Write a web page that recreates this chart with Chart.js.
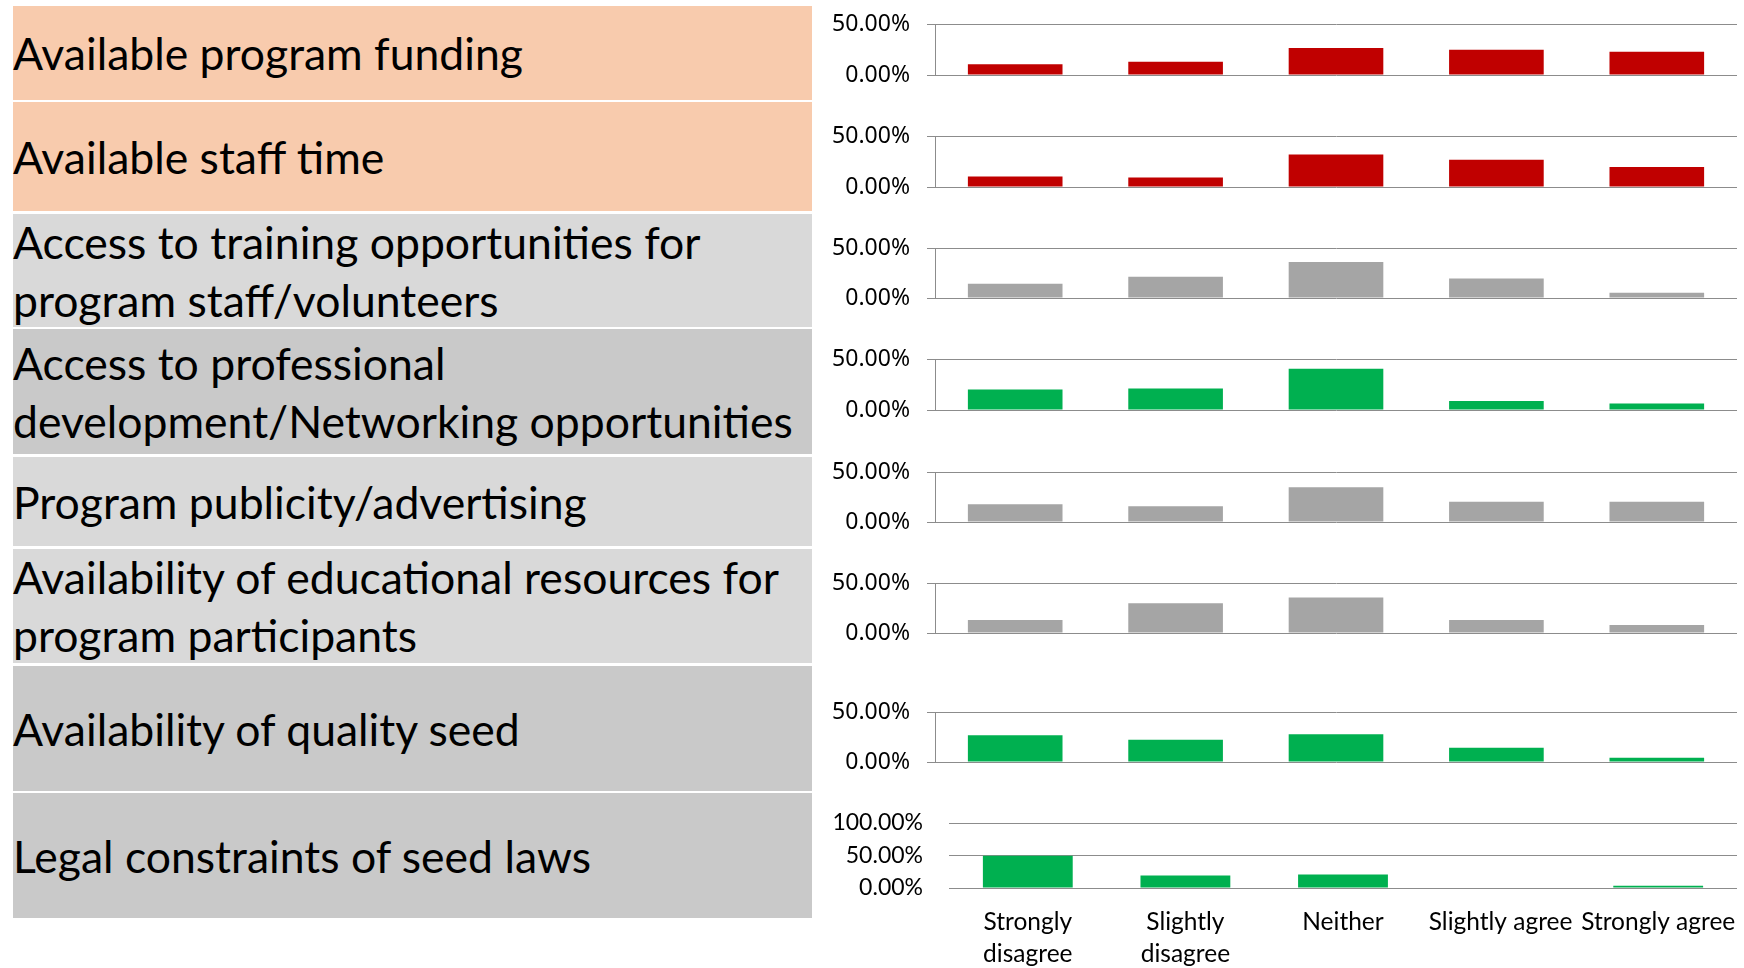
<!DOCTYPE html>
<html>
<head>
<meta charset="utf-8">
<script src="https://cdn.jsdelivr.net/npm/chart.js@4.4.1/dist/chart.umd.min.js"></script>
<style>
    body { margin: 0; background: #fff; width: 1744px; height: 968px; position: relative; overflow: hidden; }
    .box { position: absolute; left: 13px; width: 799px; display: flex; align-items: center; font-family: Lato, sans-serif; color: #000; line-height: 58px; white-space: nowrap; }
    .panel { position: absolute; left: 820px; line-height: 0; }
</style>
</head>
<body>
<div id="boxes"></div>
<div id="panels"></div>
<script>
// answer scale
const categories = [["Strongly", "disagree"], ["Slightly", "disagree"], "Neither", "Slightly agree", "Strongly agree"];

// factor text shown in the left boxes
const factorLabels = [
    ["Available program funding"],
    ["Available staff time"],
    ["Access to training opportunities for", "program staff/volunteers"],
    ["Access to professional", "development/Networking opportunities"],
    ["Program publicity/advertising"],
    ["Availability of educational resources for", "program participants"],
    ["Availability of quality seed"],
    ["Legal constraints of seed laws"]
];

// percent of respondents per answer
const programFunding = [10.6, 12.9, 26.5, 24.8, 22.8];
const staffTime = [10.2, 9.2, 31.9, 26.6, 19.7];
const trainingAccess = [14.2, 21.2, 36.1, 19.5, 5.3];
const networkingAccess = [20.1, 21.1, 40.5, 8.9, 6.3];
const publicity = [17.7, 15.7, 34.7, 20.3, 20.3];
const educationalResources = [12.9, 29.8, 35.4, 12.9, 7.9];
const qualitySeed = [26.8, 22.2, 27.8, 14.2, 4.3];
const seedLaws = [49.5, 19.1, 20.6, 0.8, 3.6];

const yTicks = [0, 50];
const yTicksLegal = [0, 50, 100];

const seriesList = [programFunding, staffTime, trainingAccess, networkingAccess, publicity, educationalResources, qualitySeed, seedLaws];

const RED = "#C00000", GRAY = "#A5A5A5", GREEN = "#00B050";
const PEACH = "#F8CBAD", LIGHT = "#D9D9D9", DARK = "#C9C9C9";

// layout of each row (box + small chart)
const rows = [
    { top: 6, height: 94, bg: PEACH, plotTop: 23.7, plotBottom: 74.2, bar: RED },
    { top: 102, height: 109, bg: PEACH, plotTop: 135.7, plotBottom: 186.3, bar: RED },
    { top: 214, height: 113, bg: LIGHT, plotTop: 247.7, plotBottom: 298, bar: GRAY },
    { top: 329, height: 125, bg: DARK, plotTop: 359.3, plotBottom: 410, bar: GREEN },
    { top: 457, height: 89, bg: LIGHT, plotTop: 471.7, plotBottom: 521.7, bar: GRAY },
    { top: 549, height: 114, bg: LIGHT, plotTop: 583.3, plotBottom: 633.7, bar: GRAY },
    { top: 666, height: 125, bg: DARK, plotTop: 711.7, plotBottom: 762, bar: GREEN },
    { top: 793, height: 125, bg: DARK, plotTop: 823.3, plotBottom: 888, bar: GREEN }
];

// fit the box font so the longest line matches the original width
const measure = document.createElement("canvas").getContext("2d");
measure.font = "100px Lato";
const boxFontSize = 100 * 780 / measure.measureText("development/Networking opportunities").width;

const boxesEl = document.getElementById("boxes");
const panelsEl = document.getElementById("panels");

rows.forEach((row, i) => {
    const box = document.createElement("div");
    box.className = "box";
    box.style.top = row.top + "px";
    box.style.height = row.height + "px";
    box.style.background = row.bg;
    box.style.fontSize = boxFontSize.toFixed(2) + "px";
    box.innerHTML = "<div>" + factorLabels[i].join("<br>") + "</div>";
    boxesEl.appendChild(box);

    const last = i === rows.length - 1;
    const canvasTop = Math.round(row.plotTop - 20);
    const canvasHeight = last ? 968 - canvasTop : Math.round(row.plotBottom - row.plotTop) + 40;

    const holder = document.createElement("div");
    holder.className = "panel";
    holder.style.top = canvasTop + "px";
    const canvas = document.createElement("canvas");
    canvas.width = 924;
    canvas.height = canvasHeight;
    holder.appendChild(canvas);
    panelsEl.appendChild(holder);

    const ticksList = last ? yTicksLegal : yTicks;

    new Chart(canvas, {
        type: "bar",
        data: {
            labels: categories,
            datasets: [{
                data: seriesList[i],
                backgroundColor: row.bar,
                borderWidth: 0,
                categoryPercentage: 1,
                barPercentage: last ? 0.57 : 0.59
            }]
        },
        options: {
            responsive: false,
            animation: false,
            devicePixelRatio: 1,
            layout: {
                padding: { top: 20, bottom: last ? 0 : 20, left: 0, right: 7 }
            },
            plugins: {
                legend: { display: false },
                tooltip: { enabled: false }
            },
            scales: {
                x: {
                    display: last,
                    grid: { display: false },
                    border: { display: false },
                    ticks: {
                        autoSkip: false,
                        maxRotation: 0,
                        minRotation: 0,
                        padding: 11,
                        color: "#000",
                        font: { family: "Lato", size: 24.5, lineHeight: 1.27 }
                    },
                    afterFit: scale => {
                        if (last) {
                            scale.height = 80;
                            scale.paddingLeft = 0;
                            scale.paddingRight = 0;
                        }
                    }
                },
                y: {
                    min: 0,
                    max: ticksList[ticksList.length - 1],
                    afterBuildTicks: scale => {
                        scale.ticks = ticksList.map(v => ({ value: v }));
                    },
                    afterFit: scale => {
                        scale.width = last ? 129 : 115;
                        scale.paddingTop = 0;
                        scale.paddingBottom = 0;
                    },
                    grid: {
                        color: "#8c8c8c",
                        lineWidth: 1,
                        drawTicks: !last,
                        tickLength: 8
                    },
                    border: { display: !last, color: "#8c8c8c", width: 1 },
                    ticks: {
                        autoSkip: false,
                        padding: last ? 26 : 17,
                        color: "#000",
                        font: last ? { family: "Lato", size: 23 } : { family: "Noto Sans", size: 23 },
                        callback: value => value.toFixed(2) + "%"
                    }
                }
            }
        }
    });
});
</script>
</body>
</html>
